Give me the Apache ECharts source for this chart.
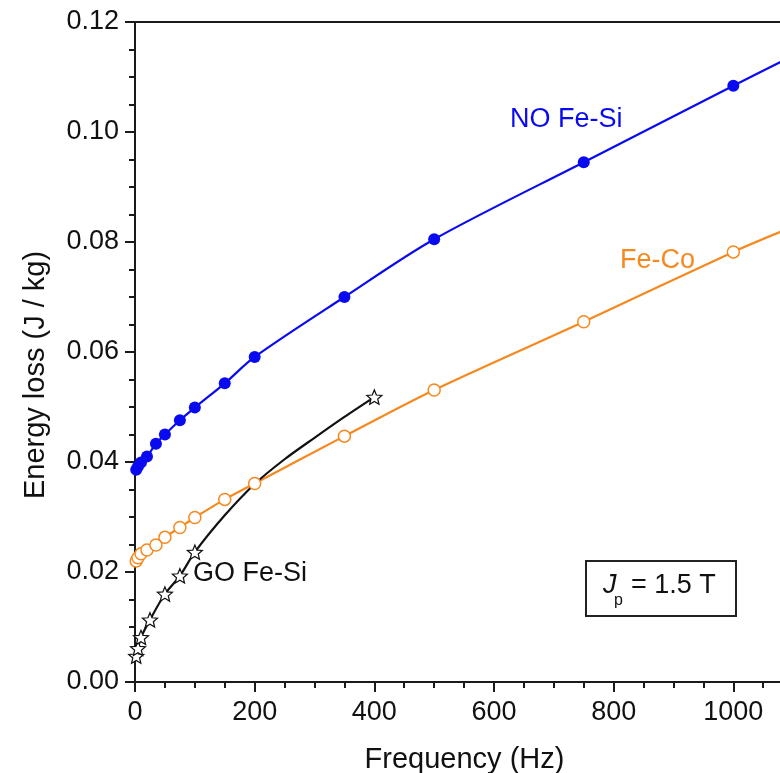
<!DOCTYPE html>
<html>
<head>
<meta charset="utf-8">
<script src="https://cdn.jsdelivr.net/npm/echarts@6.0.0/dist/echarts.min.js"></script>
<style>
  html, body { margin: 0; padding: 0; background: #fff; }
  #chart { width: 780px; height: 773px; }
</style>
</head>
<body>
<div id="chart"></div>
<script>
// Measured points (frequency in Hz, energy loss in J/kg)
const noFreq = [2, 5, 10, 20, 35, 50, 75, 100, 150, 200, 350, 500, 750, 1000]
const noLoss = [0.0386, 0.0392, 0.0399, 0.0410, 0.0433, 0.0450, 0.0476, 0.0499, 0.0543, 0.0591, 0.0700, 0.0805, 0.0945, 0.1084]

const feCoFreq = [2, 5, 10, 20, 35, 50, 75, 100, 150, 200, 350, 500, 750, 1000]
const feCoLoss = [0.0220, 0.0226, 0.0233, 0.0240, 0.0249, 0.0263, 0.0281, 0.0299, 0.0332, 0.0361, 0.0447, 0.0531, 0.0655, 0.0782]

const goFreq = [2, 5, 10, 25, 50, 75, 100, 400]
const goLoss = [0.0047, 0.0061, 0.0081, 0.0113, 0.0160, 0.0193, 0.0236, 0.0518]

// Fitted curves (run past the right edge)
const noCurveFreq = [2, 5, 10, 20, 35, 50, 75, 100, 150, 200, 350, 500, 750, 1000, 1080]
const noCurveLoss = [0.0386, 0.0392, 0.0399, 0.0410, 0.0433, 0.0450, 0.0476, 0.0499, 0.0543, 0.0591, 0.0700, 0.0805, 0.0945, 0.1084, 0.1128]

const feCoCurveFreq = [2, 5, 10, 20, 35, 50, 75, 100, 150, 200, 350, 500, 750, 1000, 1080]
const feCoCurveLoss = [0.0220, 0.0226, 0.0233, 0.0240, 0.0249, 0.0263, 0.0281, 0.0299, 0.0332, 0.0361, 0.0447, 0.0531, 0.0655, 0.0782, 0.0819]

const goCurveFreq = [0, 2, 5, 10, 25, 50, 75, 100, 150, 200, 250, 300, 350, 400]
const goCurveLoss = [0.0040, 0.0047, 0.0061, 0.0081, 0.0113, 0.0160, 0.0193, 0.0236, 0.0303, 0.0360, 0.0405, 0.0444, 0.0482, 0.0518]

// x-axis ticks
const majorTicks = [0, 200, 400, 600, 800, 1000]
const minorTicks = [50, 100, 150, 250, 300, 350, 450, 500, 550, 650, 700, 750, 850, 900, 950, 1050]

const pair = (xs, ys) => xs.map((x, i) => [x, ys[i]])

const colors = {
  no: '#0a0af0',
  feCo: '#f5891f',
  go: '#111111',
  axis: '#1a1a1a'
}

const font = '"Liberation Sans", Arial, sans-serif'
const starPath = 'path://M0 -100 L26 -36 L95.1 -30.9 L42.8 13.9 L58.8 80.9 L0 45 L-58.8 80.9 L-42.8 13.9 L-95.1 -30.9 L-26 -36 Z'

// the plot is cut at the right edge of the picture
const xMax = 1078

const chart = echarts.init(document.getElementById('chart'))

const hiddenX = {
  type: 'value',
  min: 0,
  max: xMax,
  axisLabel: { show: false },
  splitLine: { show: false }
}

const option = {
  backgroundColor: '#ffffff',
  animation: false,
  grid: {
    left: 135,
    top: 22,
    right: 0,
    height: 660,
    outerBoundsMode: 'none'
  },
  xAxis: [
    {
      type: 'value',
      min: 0,
      max: xMax,
      name: 'Frequency (Hz)',
      nameLocation: 'middle',
      nameGap: 63,
      nameTextStyle: { fontSize: 29, color: '#111', fontFamily: font, padding: [0, 0, 0, 14] },
      axisLine: { lineStyle: { color: colors.axis, width: 2 } },
      axisTick: { length: 10, customValues: majorTicks, lineStyle: { color: colors.axis, width: 2 } },
      splitLine: { show: false },
      axisLabel: {
        fontSize: 27,
        color: '#111',
        fontFamily: font,
        margin: 17,
        customValues: majorTicks,
        formatter: v => String(v)
      }
    },
    // minor ticks every 50 Hz
    Object.assign({}, hiddenX, {
      position: 'bottom',
      axisLine: { show: false },
      axisTick: { length: 6, customValues: minorTicks, lineStyle: { color: colors.axis, width: 2 } }
    }),
    // top frame line
    Object.assign({}, hiddenX, {
      position: 'top',
      axisLine: { show: true, lineStyle: { color: colors.axis, width: 2 } },
      axisTick: { show: false }
    })
  ],
  yAxis: {
    type: 'value',
    min: 0,
    max: 0.12,
    interval: 0.02,
    name: 'Energy loss (J / kg)',
    nameLocation: 'middle',
    nameGap: 85,
    nameTextStyle: { fontSize: 29, color: '#111', fontFamily: font, padding: [0, 46, 0, 0] },
    axisLine: { show: true, lineStyle: { color: colors.axis, width: 2 } },
    axisTick: { length: 10, lineStyle: { color: colors.axis, width: 2 } },
    minorTick: { show: true, splitNumber: 4, length: 6, lineStyle: { color: colors.axis, width: 2 } },
    splitLine: { show: false },
    axisLabel: {
      fontSize: 27,
      color: '#111',
      fontFamily: font,
      margin: 16,
      formatter: v => v.toFixed(2)
    }
  },
  series: [
    {
      name: 'NO Fe-Si fit',
      type: 'line',
      data: pair(noCurveFreq, noCurveLoss),
      smooth: 0.3,
      showSymbol: false,
      lineStyle: { color: colors.no, width: 2.2 },
      z: 2
    },
    {
      name: 'Fe-Co fit',
      type: 'line',
      data: pair(feCoCurveFreq, feCoCurveLoss),
      smooth: 0.3,
      showSymbol: false,
      lineStyle: { color: colors.feCo, width: 2.2 },
      z: 2
    },
    {
      name: 'GO Fe-Si fit',
      type: 'line',
      data: pair(goCurveFreq, goCurveLoss),
      smooth: 0.3,
      showSymbol: false,
      lineStyle: { color: colors.go, width: 2.2 },
      z: 2
    },
    {
      name: 'NO Fe-Si',
      type: 'scatter',
      data: pair(noFreq, noLoss),
      symbol: 'circle',
      symbolSize: 12,
      itemStyle: { color: colors.no, opacity: 1 },
      z: 4
    },
    {
      name: 'Fe-Co',
      type: 'scatter',
      data: pair(feCoFreq, feCoLoss),
      symbol: 'circle',
      symbolSize: 12,
      itemStyle: { color: '#ffffff', borderColor: colors.feCo, borderWidth: 1.5, opacity: 1 },
      z: 4
    },
    {
      name: 'GO Fe-Si',
      type: 'scatter',
      data: pair(goFreq, goLoss),
      symbol: starPath,
      symbolSize: [15, 14.3],
      itemStyle: { color: '#ffffff', borderColor: colors.go, borderWidth: 1.2, opacity: 1 },
      z: 4
    }
  ],
  graphic: [
    {
      type: 'text', left: 510, top: 106,
      style: { text: 'NO Fe-Si', fontSize: 27, fontFamily: font, fill: colors.no }
    },
    {
      type: 'text', left: 620, top: 247,
      style: { text: 'Fe-Co', fontSize: 27, fontFamily: font, fill: colors.feCo }
    },
    {
      type: 'text', left: 193, top: 560,
      style: { text: 'GO Fe-Si', fontSize: 27, fontFamily: font, fill: '#111' }
    },
    {
      type: 'rect', left: 585, top: 560,
      shape: { width: 150, height: 55 },
      style: { fill: 'rgba(0,0,0,0)', stroke: '#222', lineWidth: 2 }
    },
    {
      type: 'text', left: 603, top: 572,
      style: { text: 'J', fontSize: 27, fontStyle: 'italic', fontFamily: font, fill: '#111' }
    },
    {
      type: 'text', left: 614, top: 593,
      style: { text: 'p', fontSize: 16, fontFamily: font, fill: '#111' }
    },
    {
      type: 'text', left: 631, top: 572,
      style: { text: '= 1.5 T', fontSize: 27, fontFamily: font, fill: '#111' }
    }
  ]
}

chart.setOption(option)
</script>
</body>
</html>
